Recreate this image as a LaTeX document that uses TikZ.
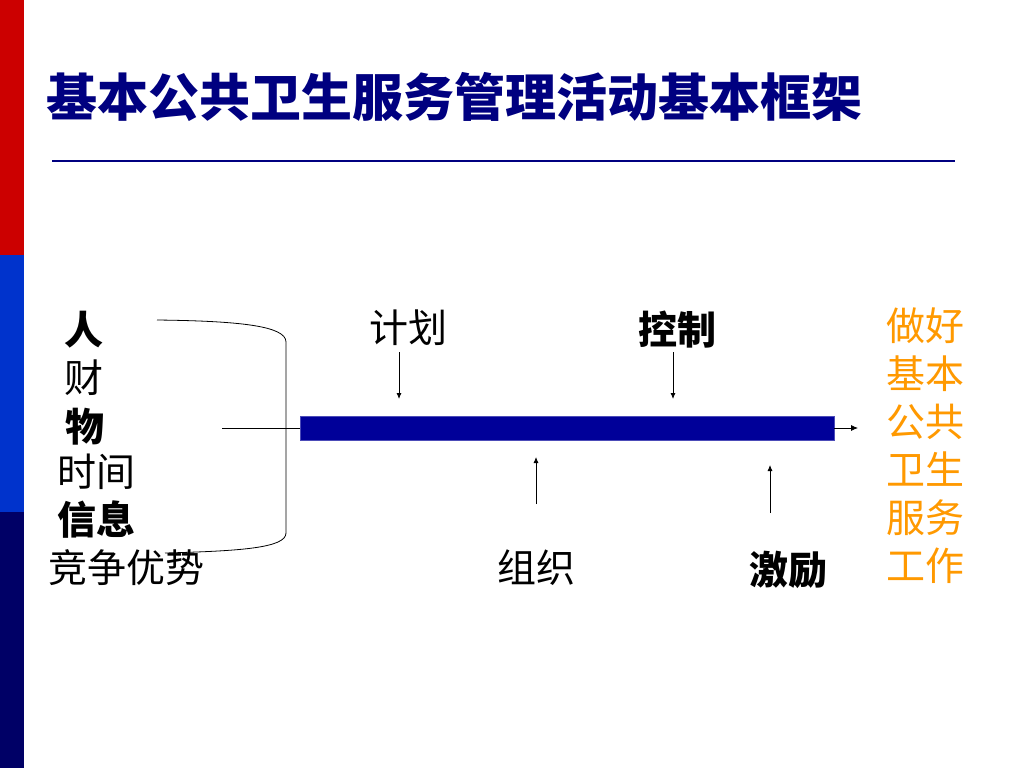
\documentclass[tikz,border=0pt]{standalone}
\usepackage{fontspec}
\setmainfont{Noto Sans CJK SC}
\usetikzlibrary{arrows.meta}
\definecolor{stripred}{RGB}{204,0,0}
\definecolor{stripblue}{RGB}{0,51,204}
\definecolor{stripnavy}{RGB}{0,0,102}
\definecolor{titlenavy}{RGB}{0,0,128}
\definecolor{barblue}{RGB}{0,0,153}
\definecolor{workorange}{RGB}{255,153,0}
\begin{document}
\begin{tikzpicture}[x=1pt,y=-1pt]
        \tikzstyle{item}=[inner sep=0pt,font=\fontsize{39}{42}\selectfont]
        \tikzstyle{bolditem}=[item,font=\fontsize{39}{42}\selectfont\bfseries]
        \tikzstyle{work}=[inner sep=0pt,text=workorange,align=center,font=\fontsize{39}{48}\selectfont]
        \tikzstyle{arr}=[thick,-{Latex[length=6pt,width=5pt]}]

        \useasboundingbox (0,0) rectangle (1024,768);
        \fill[white] (0,0) rectangle (1024,768);
        \fill[stripred] (0,0) rectangle (24,255);
        \fill[stripblue] (0,255) rectangle (24,512);
        \fill[stripnavy] (0,512) rectangle (24,768);

        \node (title)[anchor=west,inner sep=0pt,text=titlenavy,font=\fontsize{51}{55}\selectfont\bfseries] at (46,97) {基本公共卫生服务管理活动基本框架};
        \draw[titlenavy, line width=2pt] (52,161) -- (955,161);

        \node (ren)[bolditem] at (84,330) {人};
        \node (cai)[item] at (84,378) {财};
        \node (wu)[bolditem] at (85,427) {物};
        \node (shijian)[item] at (96,472) {时间};
        \node (xinxi)[bolditem] at (96,520) {信息};
        \node (jingzheng)[item] at (126,568) {竞争优势};

        \draw[thick] (157,320) .. controls (240,321) and (286,326) .. (286,342) -- (286,533) .. controls (286,548) and (240,551) .. (165,553);

        \node (bar)[fill=barblue,draw=barblue!70,inner sep=0pt,minimum width=534pt,minimum height=24pt] at (567,428) {};
        \coordinate (in) at (222,428);
        \coordinate (out) at (858,428);
        \draw[thick] (in) -- (bar.west);
        \draw[thick,-{Latex[length=7pt,width=6pt]}] (bar.east) -- (out);

        \node (jihua)[item] at (408,328) {计划};
        \node (kongzhi)[bolditem] at (677,330) {控制};
        \node (zuzhi)[item] at (536,568) {组织};
        \node (jili)[bolditem] at (788,570) {激励};

        \draw[arr] (399,352) -- (399,399);
        \draw[arr] (673,352) -- (673,399);
        \draw[arr] (536,504) -- (536,457);
        \draw[arr] (770,513) -- (770,465);

        \node (work)[work] at (925,446) {做好\\基本\\公共\\卫生\\服务\\工作};
\end{tikzpicture}
\end{document}
